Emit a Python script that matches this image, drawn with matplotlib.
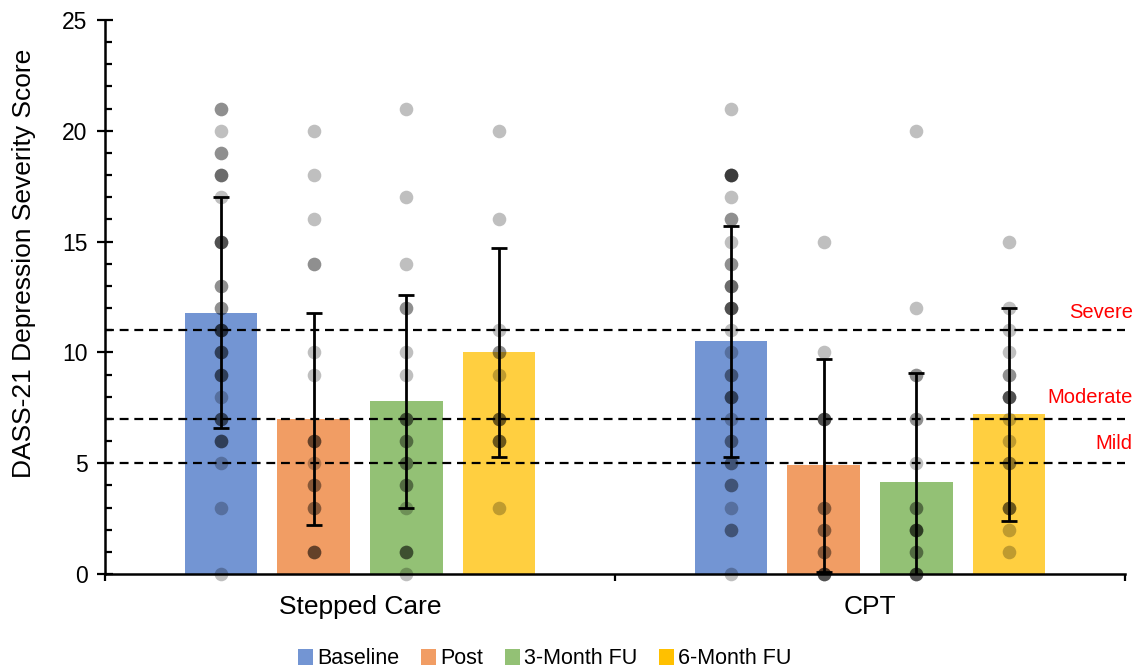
import numpy as np
import matplotlib
matplotlib.use("Agg")
from matplotlib import pyplot as plt
from matplotlib.patches import Patch
from matplotlib.ticker import MultipleLocator, FixedLocator

plt.rcParams["font.family"] = ["Liberation Sans", "DejaVu Sans"]

groups = ["Stepped Care", "CPT"]
series = ["Baseline", "Post", "3-Month FU", "6-Month FU"]
bar_colors = ["#7395D3", "#F19D64", "#93C175", "#FFCF40"]
legend_colors = ["#7395D3", "#F19D64", "#93C175", "#FFC000"]

# means and SDs: rows = groups, columns = time points
means = [[11.8, 7.0, 7.8, 10.0],
         [10.5, 4.9, 4.15, 7.2]]
sds = [[5.2, 4.8, 4.8, 4.7],
       [5.2, 4.8, 4.9, 4.8]]

# individual scores (value, how many participants)
sc_base_vals = [21, 20, 19, 18, 17, 15, 13, 12, 11, 10, 9, 8, 7, 6, 5, 3, 0]
sc_base_cnts = [2, 1, 2, 3, 1, 4, 2, 2, 4, 3, 3, 1, 3, 3, 1, 1, 1]
sc_post_vals = [20, 18, 16, 14, 10, 9, 6, 5, 4, 3, 1]
sc_post_cnts = [1, 1, 1, 2, 1, 1, 3, 1, 2, 2, 3]
sc_3m_vals = [21, 17, 14, 12, 10, 9, 7, 6, 5, 4, 3, 1, 0]
sc_3m_cnts = [1, 1, 1, 2, 1, 1, 3, 2, 2, 2, 1, 3, 1]
sc_6m_vals = [20, 16, 11, 10, 9, 7, 6, 3]
sc_6m_cnts = [1, 1, 1, 2, 1, 3, 3, 1]
cpt_base_vals = [21, 18, 17, 16, 15, 14, 13, 12, 11, 10, 9, 8, 7, 6, 5, 4, 3, 2, 0]
cpt_base_cnts = [1, 5, 1, 2, 1, 2, 3, 4, 1, 1, 2, 3, 1, 2, 2, 2, 1, 2, 1]
cpt_post_vals = [15, 10, 7, 3, 2, 1, 0]
cpt_post_cnts = [1, 1, 4, 2, 2, 2, 4]
cpt_3m_vals = [20, 12, 9, 7, 5, 3, 2, 1, 0]
cpt_3m_cnts = [1, 1, 2, 2, 1, 2, 4, 2, 4]
cpt_6m_vals = [15, 12, 11, 10, 9, 8, 7, 6, 5, 3, 2, 1]
cpt_6m_cnts = [1, 1, 1, 1, 2, 4, 1, 1, 2, 3, 1, 1]

points = [[(sc_base_vals, sc_base_cnts), (sc_post_vals, sc_post_cnts),
           (sc_3m_vals, sc_3m_cnts), (sc_6m_vals, sc_6m_cnts)],
          [(cpt_base_vals, cpt_base_cnts), (cpt_post_vals, cpt_post_cnts),
           (cpt_3m_vals, cpt_3m_cnts), (cpt_6m_vals, cpt_6m_cnts)]]

cutoffs = [11, 7, 5]
cutoff_names = ["Severe", "Moderate", "Mild"]
cutoff_label_y = [11.8, 7.95, 5.9]

fig = plt.figure(figsize=(11.37, 6.7), dpi=100)
ax = fig.add_axes([105 / 1137, 96 / 670, 1020 / 1137, 554 / 670])

step = 0.1816
width = 0.1427
for g in range(len(groups)):
    for s in range(len(series)):
        x = g + (s - 1.5) * step
        ax.bar(x, means[g][s], width, color=bar_colors[s], zorder=1)
        vals, cnts = points[g][s]
        ys = np.repeat(vals, cnts)
        ax.plot(np.full(len(ys), x), ys, "o", ms=9.8, mew=0, color="black",
                alpha=0.25, zorder=2, clip_on=False)
        ax.errorbar(x, means[g][s], yerr=sds[g][s], fmt="none", ecolor="black",
                    elinewidth=2, capsize=6, capthick=2, zorder=4)

for c, name, ly in zip(cutoffs, cutoff_names, cutoff_label_y):
    ax.axhline(c, color="black", ls=(0, (4, 2.6)), lw=1.6, zorder=3)
    ax.text(1.515, ly, name, color="red", fontsize=14.5, ha="right", va="center")

ax.set_xlim(-0.5, 1.5)
ax.set_ylim(0, 25)
ax.yaxis.set_major_locator(MultipleLocator(5))
ax.yaxis.set_minor_locator(MultipleLocator(1))
ax.tick_params(axis="y", which="major", direction="inout", length=11, width=1.6,
               labelsize=16.5, pad=7)
ax.tick_params(axis="y", which="minor", direction="in", length=5, width=1.6)
ax.set_xticks([0, 1])
ax.set_xticklabels(groups)
ax.xaxis.set_minor_locator(FixedLocator([-0.5, 0.5, 1.5]))
ax.tick_params(axis="x", which="major", length=0, labelsize=19, pad=15)
ax.tick_params(axis="x", which="minor", direction="out", length=5, width=1.6)

for side in ["top", "right"]:
    ax.spines[side].set_visible(False)
ax.spines["left"].set_linewidth(1.8)
ax.spines["bottom"].set_linewidth(1.8)

ax.set_ylabel("DASS-21 Depression Severity Score", fontsize=19)
ax.yaxis.set_label_coords(-0.068, 0.56)

handles = [Patch(facecolor=c, edgecolor="none") for c in legend_colors]
fig.legend(handles, series, loc="center", bbox_to_anchor=(545 / 1137, 11 / 670),
           ncol=4, frameon=False, fontsize=15.5, handlelength=0.7, handleheight=0.7,
           handletextpad=0.2, columnspacing=1.0)

fig.savefig("out.png", dpi=100)
